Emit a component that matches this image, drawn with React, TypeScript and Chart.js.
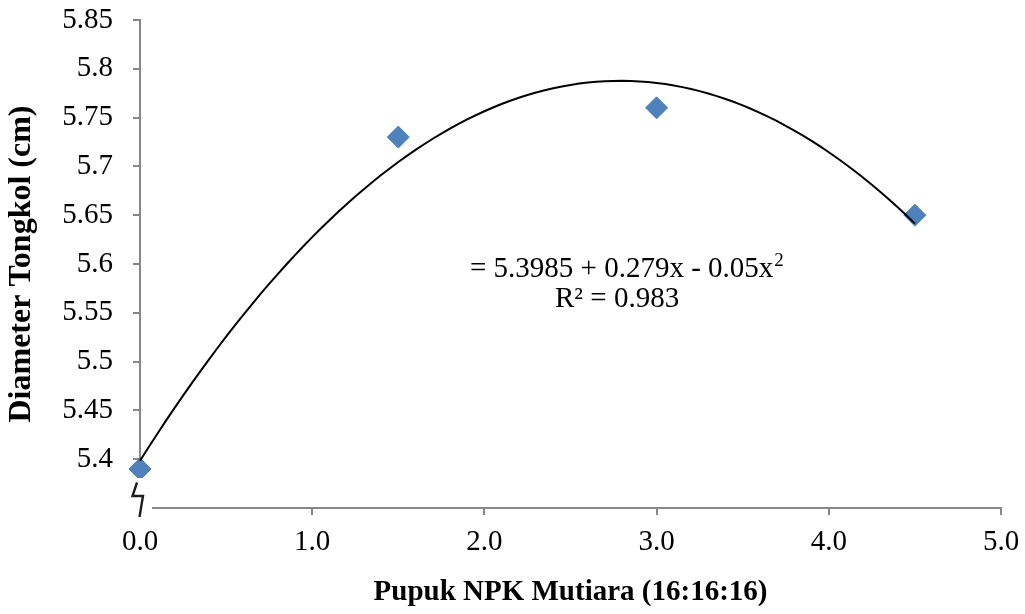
import React, { useEffect, useRef } from 'react';
import { Chart, registerables } from 'chart.js';

Chart.register(...registerables);

// ---- Data ----
const DOSES = [0, 1.5, 3, 4.5];
const DIAMETERS = [5.39, 5.73, 5.76, 5.65];
const TREND_COEF = [5.3985, 0.279, -0.05]; // y = a + b x + c x^2
const TREND_RANGE = [0, 4.5];
const X_TITLE = 'Pupuk NPK Mutiara (16:16:16)';
const Y_TITLE = 'Diameter Tongkol (cm)';
const EQ_LINE1 = '= 5.3985 + 0.279x - 0.05x';
const EQ_SUP = '2';
const EQ_LINE2 = 'R² = 0.983';

const trendPoints = (() => {
  const pts: { x: number; y: number }[] = [];
  const n = 90;
  for (let i = 0; i <= n; i++) {
    const x = TREND_RANGE[0] + ((TREND_RANGE[1] - TREND_RANGE[0]) * i) / n;
    pts.push({ x, y: TREND_COEF[0] + TREND_COEF[1] * x + TREND_COEF[2] * x * x });
  }
  return pts;
})();

const SERIF = '"Liberation Serif", "Times New Roman", serif';
const AXIS_COLOR = '#878787';

const overlayPlugin = {
  id: 'overlay',
  afterDraw(chart: any) {
    const ctx = chart.ctx as CanvasRenderingContext2D;
    const area = chart.chartArea;
    ctx.save();
    // axis break box
    const bx = area.left;
    const by = area.bottom;
    ctx.fillStyle = '#ffffff';
    ctx.fillRect(bx - 13, by - 30, 25, 35);
    ctx.strokeStyle = '#1e1e1e';
    ctx.lineWidth = 2.4;
    ctx.lineJoin = 'miter';
    ctx.beginPath();
    ctx.moveTo(bx - 3, by - 25.5);
    ctx.lineTo(bx - 7.5, by - 12);
    ctx.lineTo(bx + 3, by - 12);
    ctx.lineTo(bx - 0.5, by + 9);
    ctx.stroke();

    // equation text
    ctx.fillStyle = '#000000';
    ctx.textBaseline = 'alphabetic';
    ctx.textAlign = 'left';
    ctx.font = `29px ${SERIF}`;
    const x1 = 470;
    const y1 = 277;
    ctx.fillText(EQ_LINE1, x1, y1);
    const w1 = ctx.measureText(EQ_LINE1).width;
    ctx.font = `19px ${SERIF}`;
    ctx.fillText(EQ_SUP, x1 + w1 + 1, y1 - 11);
    ctx.font = `29px ${SERIF}`;
    ctx.fillText(EQ_LINE2, 555, 307);
    ctx.restore();
  },
};

export default function App() {
  const ref = useRef<HTMLCanvasElement | null>(null);

  useEffect(() => {
    if (!ref.current) return;
    const chart = new Chart(ref.current, {
      type: 'scatter',
      data: {
        datasets: [
          {
            label: 'Trend',
            data: trendPoints,
            showLine: true,
            borderColor: '#000000',
            borderWidth: 2,
            pointRadius: 0,
            pointHoverRadius: 0,
            fill: false,
            clip: false,
          },
          {
            label: 'Diameter',
            data: DOSES.map((x, i) => ({ x, y: DIAMETERS[i] })),
            pointStyle: 'rectRot',
            pointRadius: 11,
            backgroundColor: '#4F81BD',
            borderColor: '#4A7EBB',
            borderWidth: 1,
            showLine: false,
            clip: false,
          },
        ],
      },
      options: {
        responsive: false,
        animation: false,
        events: [],
        layout: { padding: { top: 20, right: 24, left: 0, bottom: 0 } },
        plugins: {
          legend: { display: false },
          tooltip: { enabled: false },
        },
        scales: {
          x: {
            type: 'linear',
            min: 0,
            max: 5,
            afterFit: (s: any) => {
              s.height = 106;
              s.paddingLeft = 0;
              s.paddingRight = 0;
            },
            ticks: {
              stepSize: 1,
              padding: 10,
              color: '#000',
              font: { family: SERIF, size: 29 },
              callback: (v: any) => Number(v).toFixed(1),
            },
            grid: {
              drawOnChartArea: false,
              drawTicks: true,
              tickLength: 7,
              color: AXIS_COLOR,
              lineWidth: 2,
            },
            border: { display: true, color: AXIS_COLOR, width: 2 },
            title: {
              display: true,
              text: X_TITLE,
              color: '#000',
              font: { family: SERIF, size: 29, weight: 'bold' },
              padding: { top: 0, bottom: 4 },
            },
          },
          y: {
            type: 'linear',
            min: 5.35,
            max: 5.85,
            afterFit: (s: any) => {
              s.width = 140;
              s.paddingTop = 0;
              s.paddingBottom = 0;
            },
            ticks: {
              stepSize: 0.05,
              padding: 20,
              color: '#000',
              font: { family: SERIF, size: 29 },
              callback: (v: any) =>
                Math.abs(Number(v) - 5.35) < 1e-6 ? '' : String(Number(Number(v).toFixed(2))),
            },
            grid: {
              drawOnChartArea: false,
              drawTicks: true,
              tickLength: 7,
              color: AXIS_COLOR,
              lineWidth: 2,
            },
            border: { display: true, color: AXIS_COLOR, width: 2 },
            title: {
              display: true,
              text: Y_TITLE,
              color: '#000',
              font: { family: SERIF, size: 32, weight: 'bold' },
              padding: { top: 3, bottom: 0 },
            },
          },
        },
      },
      plugins: [overlayPlugin],
    } as any);
    return () => chart.destroy();
  }, []);

  return (
    <div style={{ position: 'absolute', left: 0, top: 0, width: 1025, height: 614, background: '#fff' }}>
      <canvas ref={ref} width={1025} height={614} style={{ display: 'block' }} />
    </div>
  );
}
